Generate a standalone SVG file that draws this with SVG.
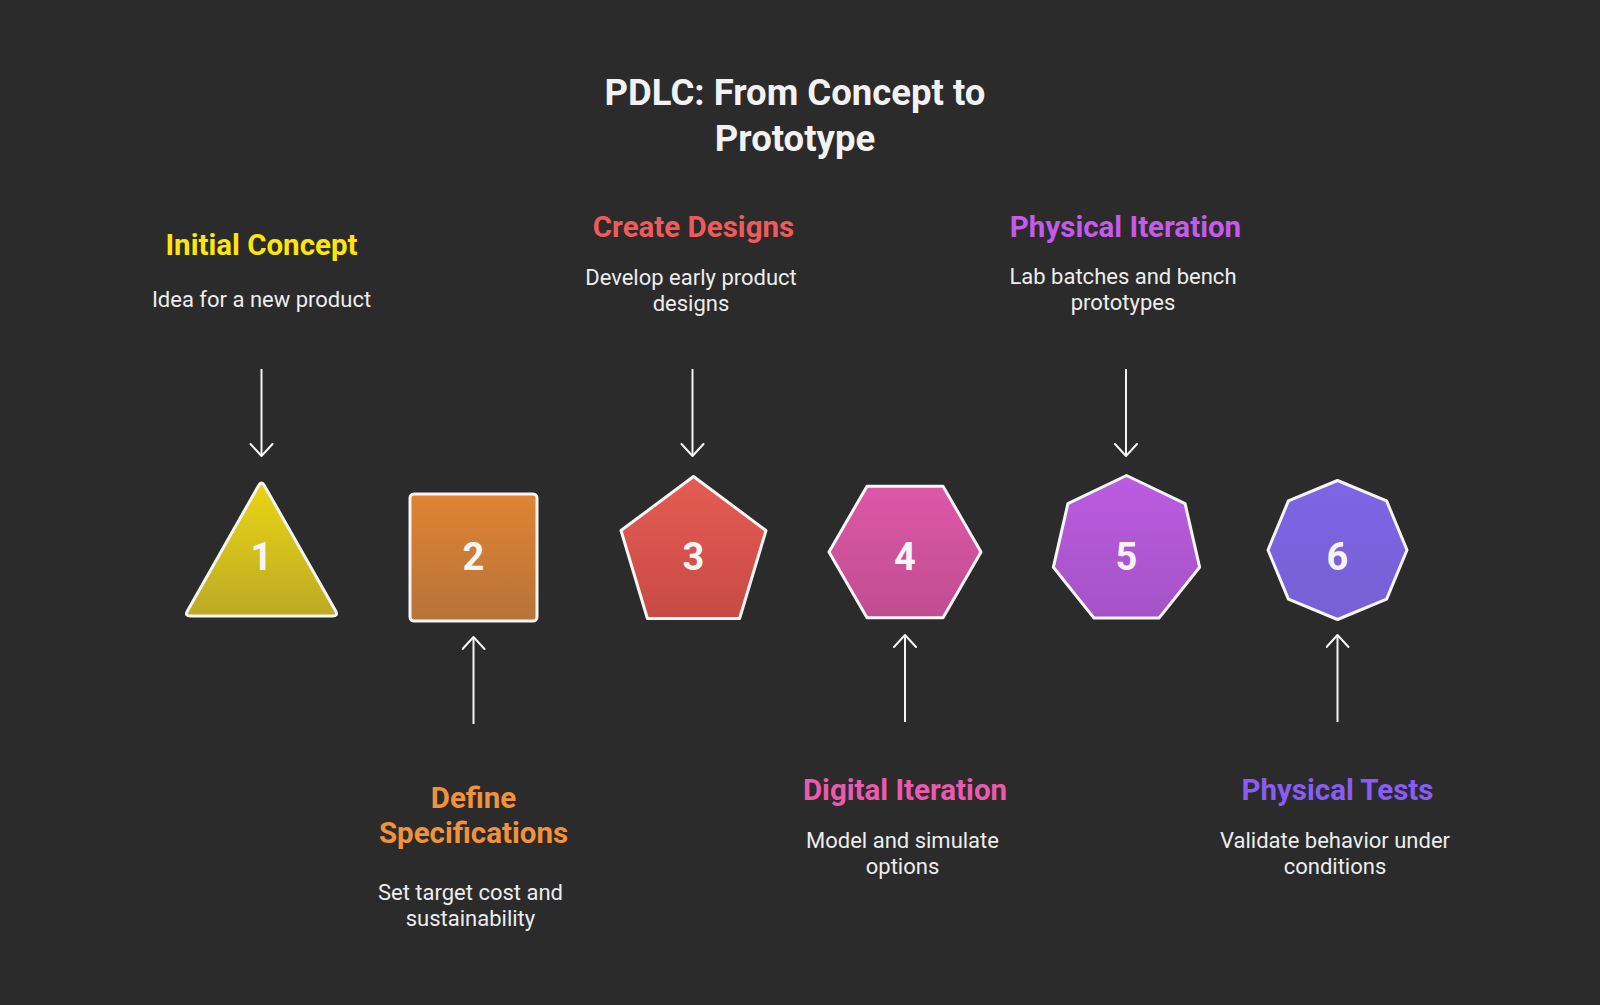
<svg xmlns="http://www.w3.org/2000/svg" width="1600" height="1005" viewBox="0 0 1600 1005">
<style>
  .title{font-family:Roboto,"Liberation Sans",sans-serif;font-weight:700;font-size:36.5px;fill:#F2F2F2;text-anchor:middle}
  .head{font-family:Roboto,"Liberation Sans",sans-serif;font-weight:700;font-size:29.5px;text-anchor:middle}
  .desc{font-family:Roboto,"Liberation Sans",sans-serif;font-size:22px;fill:#EDEDED;text-anchor:middle}
  .num{font-family:Roboto,"Liberation Sans",sans-serif;font-weight:700;font-size:38px;fill:#F5F5F5;text-anchor:middle}
  .shape{stroke:#F5F5F5;stroke-width:3;stroke-linejoin:round}
  .conn{stroke:#F5F5F5;stroke-width:2;fill:none}
</style>
<defs>
  <linearGradient id="g1" x1="0" y1="0" x2="0" y2="1"><stop offset="0" stop-color="#EAD513"/><stop offset="1" stop-color="#BCAA25"/></linearGradient>
  <linearGradient id="g2" x1="0" y1="0" x2="0" y2="1"><stop offset="0" stop-color="#DF8432"/><stop offset="1" stop-color="#B7733A"/></linearGradient>
  <linearGradient id="g3" x1="0" y1="0" x2="0" y2="1"><stop offset="0" stop-color="#E55C53"/><stop offset="1" stop-color="#C84A45"/></linearGradient>
  <linearGradient id="g4" x1="0" y1="0" x2="0" y2="1"><stop offset="0" stop-color="#DD57A8"/><stop offset="1" stop-color="#C04D90"/></linearGradient>
  <linearGradient id="g5" x1="0" y1="0" x2="0" y2="1"><stop offset="0" stop-color="#BC5BE0"/><stop offset="1" stop-color="#A453C6"/></linearGradient>
  <linearGradient id="g6" x1="0" y1="0" x2="0" y2="1"><stop offset="0" stop-color="#7D65E5"/><stop offset="1" stop-color="#7660D3"/></linearGradient>
  <marker id="arr" markerUnits="userSpaceOnUse" markerWidth="30" markerHeight="30" refX="13" refY="12" orient="auto">
    <path d="M1,1 L13,12 L1,23" fill="none" stroke="#F5F5F5" stroke-width="2" stroke-linecap="round" stroke-linejoin="round"/>
  </marker>
</defs>
<rect width="1600" height="1005" fill="#2B2B2B"/>

<g id="title">
  <text class="title" x="795" y="105">PDLC: From Concept to</text>
  <text class="title" x="795" y="151">Prototype</text>
</g>

<g id="connectors">
  <line class="conn" x1="261.5" y1="369" x2="261.5" y2="456" marker-end="url(#arr)"/>
  <line class="conn" x1="473.5" y1="724" x2="473.5" y2="637" marker-end="url(#arr)"/>
  <line class="conn" x1="692.5" y1="369" x2="692.5" y2="456" marker-end="url(#arr)"/>
  <line class="conn" x1="905" y1="722" x2="905" y2="635" marker-end="url(#arr)"/>
  <line class="conn" x1="1126" y1="369" x2="1126" y2="456" marker-end="url(#arr)"/>
  <line class="conn" x1="1337.5" y1="722" x2="1337.5" y2="635" marker-end="url(#arr)"/>
</g>

<g id="node1">
  <path class="shape" fill="url(#g1)" d="M264.46,485.72 L335.54,610.78 Q338.5,616 332.5,616 L190.5,616 Q184.5,616 187.54,610.78 L258.54,485.72 Q261.5,480.5 264.46,485.72 Z"/>
  <text class="num" x="261.5" y="570">1</text>
  <text class="head" x="261.5" y="255" fill="#FFE40F">Initial Concept</text>
  <text class="desc" x="261.5" y="307">Idea for a new product</text>
</g>

<g id="node2">
  <rect class="shape" fill="url(#g2)" x="410" y="494" width="127" height="127" rx="4"/>
  <text class="num" x="473.5" y="570">2</text>
  <text class="head" x="473.5" y="808" fill="#F2923A">Define</text>
  <text class="head" x="473.5" y="843" fill="#F2923A">Specifications</text>
  <text class="desc" x="470.5" y="900">Set target cost and</text>
  <text class="desc" x="470.5" y="926">sustainability</text>
</g>

<g id="node3">
  <polygon class="shape" fill="url(#g3)" points="693.5,476.5 766,530.5 739.6,618.5 647.4,618.5 621,530.5"/>
  <text class="num" x="693.5" y="570">3</text>
  <text class="head" x="693.5" y="236.5" fill="#F05A5A">Create Designs</text>
  <text class="desc" x="691" y="284.5">Develop early product</text>
  <text class="desc" x="691" y="310.5">designs</text>
</g>

<g id="node4">
  <polygon class="shape" fill="url(#g4)" points="981,552 943,617.8 867,617.8 829,552 867,486.2 943,486.2"/>
  <text class="num" x="905" y="570">4</text>
  <text class="head" x="905" y="800" fill="#EC5AAE">Digital Iteration</text>
  <text class="desc" x="902.5" y="848">Model and simulate</text>
  <text class="desc" x="902.5" y="874">options</text>
</g>

<g id="node5">
  <polygon class="shape" fill="url(#g5)" points="1126.5,475.5 1185.1,503.7 1199.6,567.2 1159,618.1 1094,618.1 1053.4,567.2 1067.9,503.7"/>
  <text class="num" x="1126.5" y="570">5</text>
  <text class="head" x="1125.5" y="236.5" fill="#C65AEA">Physical Iteration</text>
  <text class="desc" x="1123" y="284">Lab batches and bench</text>
  <text class="desc" x="1123" y="310">prototypes</text>
</g>

<g id="node6">
  <polygon class="shape" fill="url(#g6)" points="1337.5,480.5 1386.6,500.9 1407,550 1386.6,599.1 1337.5,619.5 1288.4,599.1 1268,550 1288.4,500.9"/>
  <text class="num" x="1337.5" y="570">6</text>
  <text class="head" x="1337.5" y="800" fill="#8A5CF5">Physical Tests</text>
  <text class="desc" x="1335" y="848">Validate behavior under</text>
  <text class="desc" x="1335" y="874">conditions</text>
</g>
</svg>
